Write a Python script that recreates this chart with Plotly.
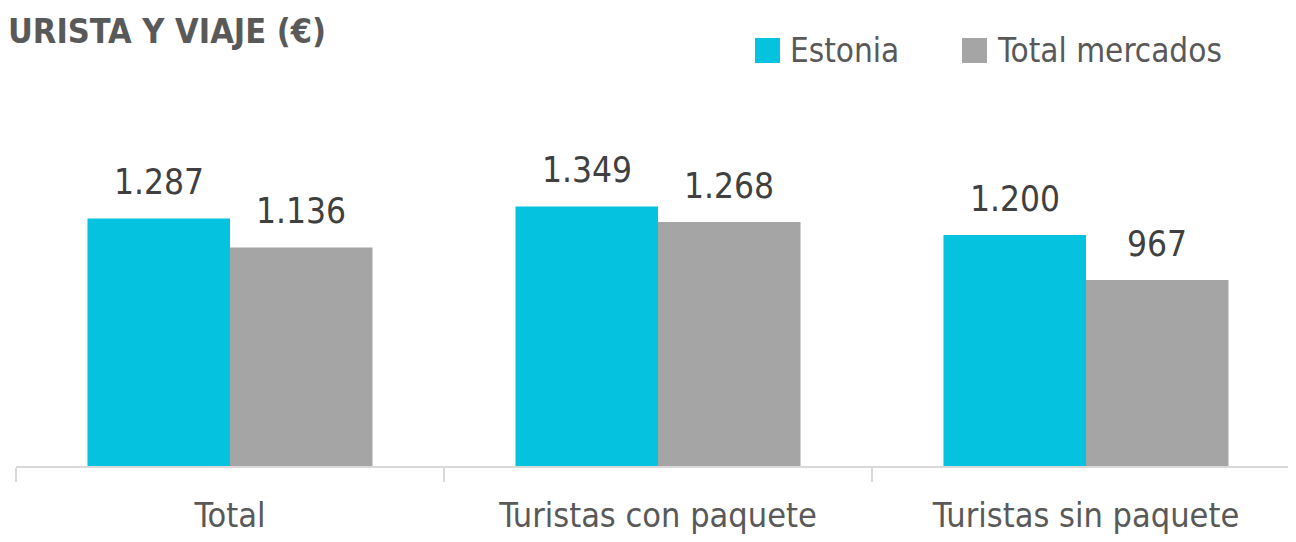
import plotly.graph_objects as go

categories = ["Total", "Turistas con paquete", "Turistas sin paquete"]
series_names = ["Estonia", "Total mercados"]
estonia = [1287, 1349, 1200]
total_mercados = [1136, 1268, 967]
colors = ["#05C3DE", "#A5A5A5"]
title_text = "GASTO MEDIO POR TURISTA Y VIAJE (€)"

FONT = "DejaVu Sans Condensed, Liberation Sans Narrow, sans-serif"
OFF = 8  # browser body margin
W, H = 1296 - 2 * OFF, 542 - 2 * OFF
ML, MR, MT, MB = 16 - OFF, 0, 100 - OFF, H - (466 - OFF)
PW, PH = W - ML - MR, H - MT - MB
CAT_PX = 428
PX_PER_UNIT = 0.1924
BARGAP = 0.334


def fx(px):
    return (px - OFF - ML) / PW


def fy(py):
    return (H - MB - (py - OFF)) / PH


fig = go.Figure()
half = CAT_PX * (1 - BARGAP) / 4
for i, (name, vals, col) in enumerate(zip(series_names, [estonia, total_mercados], colors)):
    fig.add_trace(go.Bar(
        name=name, x=categories, y=vals, marker=dict(color=col, line=dict(width=0)),
        showlegend=False, hoverinfo="x+y",
    ))
    for c, v in zip(categories, vals):
        fig.add_annotation(x=c, y=v, text=f"{v:,}".replace(",", "."), showarrow=False,
                           xshift=(-half if i == 0 else half), yshift=14,
                           yanchor="bottom", xanchor="center",
                           font=dict(family=FONT, size=35, color="#404040"))

# manual legend (large square swatches)
leg_x = [755, 962]
for name, col, lx in zip(series_names, colors, leg_x):
    fig.add_shape(type="rect", xref="paper", yref="paper",
                  x0=fx(lx), x1=fx(lx + 25), y0=fy(63), y1=fy(38),
                  fillcolor=col, line=dict(width=0))
    fig.add_annotation(text=name, xref="paper", yref="paper",
                       x=fx(lx + 33), y=fy(50),
                       xanchor="left", yanchor="middle", showarrow=False,
                       font=dict(family=FONT, size=33, color="#595959"))

fig.update_layout(
    width=W, height=H,
    margin=dict(l=ML, r=MR, t=MT, b=MB, pad=0, autoexpand=False),
    paper_bgcolor="white", plot_bgcolor="white",
    barmode="group", bargap=BARGAP, bargroupgap=0,
    separators=",.",
    title=dict(text=title_text, xref="container", yref="container",
               x=(326 - OFF) / W, xanchor="right", y=1 - (31 - OFF) / H, yanchor="middle",
               font=dict(family=FONT, size=34, color="#595959", weight="bold")),
    xaxis=dict(range=[-0.5, -0.5 + PW / CAT_PX], showline=True, automargin=False,
               linecolor="#D9D9D9", linewidth=2, ticks="outside", tickson="boundaries",
               ticklen=14, tickcolor="#D9D9D9", tickwidth=2, showgrid=False,
               ticklabelstandoff=18,
               tickfont=dict(family=FONT, size=34, color="#595959")),
    yaxis=dict(range=[0, PH / PX_PER_UNIT], visible=False, showgrid=False),
)

fig.write_html("out.html")
